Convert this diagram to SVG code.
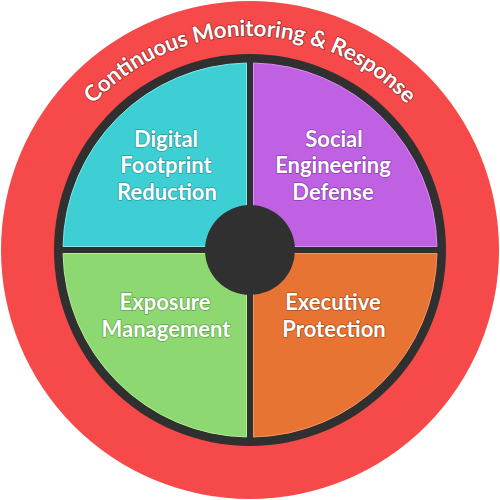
<svg xmlns="http://www.w3.org/2000/svg" width="500" height="500" viewBox="0 0 500 500">
  <defs>
    <style>
      .lbl { font-family: Lato, "Open Sans", sans-serif; font-weight: 700; font-size: 22px; fill: #ffffff; text-anchor: middle; paint-order: stroke; stroke-width: 1.6; stroke-linejoin: round; }
      .ring { font-family: Lato, "Open Sans", sans-serif; font-weight: 700; font-size: 22.5px; fill: #ffffff; paint-order: stroke; stroke: #9a2a2a; stroke-width: 1.6; stroke-linejoin: round; }
    </style>
    <path id="arcPath" d="M 36,250 A 214,214 0 0 1 464,250"/>
  </defs>

  <g id="outer-ring">
    <circle cx="250" cy="250" r="249" fill="#F64A4A"/>
    <circle cx="250" cy="250" r="196" fill="#303030"/>
    <text class="ring"><textPath href="#arcPath" startOffset="50%" text-anchor="middle" textLength="352" lengthAdjust="spacing">Continuous Monitoring &amp; Response</textPath></text>
  </g>

  <g id="digital-footprint">
    <path d="M 246.5,63.03 A 187,187 0 0 0 63.03,246.5 L 246.5,246.5 Z" fill="#3ECFD4" stroke="#7EE8EC" stroke-width="1"/>
    <text class="lbl" stroke="#2a9ea3" x="166" y="147">Digital</text>
    <text class="lbl" stroke="#2a9ea3" x="166" y="173">Footprint</text>
    <text class="lbl" stroke="#2a9ea3" x="167" y="200">Reduction</text>
  </g>

  <g id="social-engineering">
    <path d="M 253.5,63.03 A 187,187 0 0 1 436.97,246.5 L 253.5,246.5 Z" fill="#C061E3" stroke="#D98CF2" stroke-width="1"/>
    <text class="lbl" stroke="#8e3fb0" x="334" y="147">Social</text>
    <text class="lbl" stroke="#8e3fb0" x="333" y="173">Engineering</text>
    <text class="lbl" stroke="#8e3fb0" x="333" y="200">Defense</text>
  </g>

  <g id="exposure-management">
    <path d="M 246.5,436.97 A 187,187 0 0 1 63.03,253.5 L 246.5,253.5 Z" fill="#8ED872" stroke="#B2EE98" stroke-width="1"/>
    <text class="lbl" stroke="#5fa848" x="165" y="310">Exposure</text>
    <text class="lbl" stroke="#5fa848" x="166" y="337">Management</text>
  </g>

  <g id="executive-protection">
    <path d="M 253.5,436.97 A 187,187 0 0 0 436.97,253.5 L 253.5,253.5 Z" fill="#E87434" stroke="#F49560" stroke-width="1"/>
    <text class="lbl" stroke="#b0501e" x="333" y="310">Executive</text>
    <text class="lbl" stroke="#b0501e" x="334" y="337">Protection</text>
  </g>

  <g id="center">
    <circle cx="250" cy="250" r="45" fill="#303030"/>
  </g>
</svg>
